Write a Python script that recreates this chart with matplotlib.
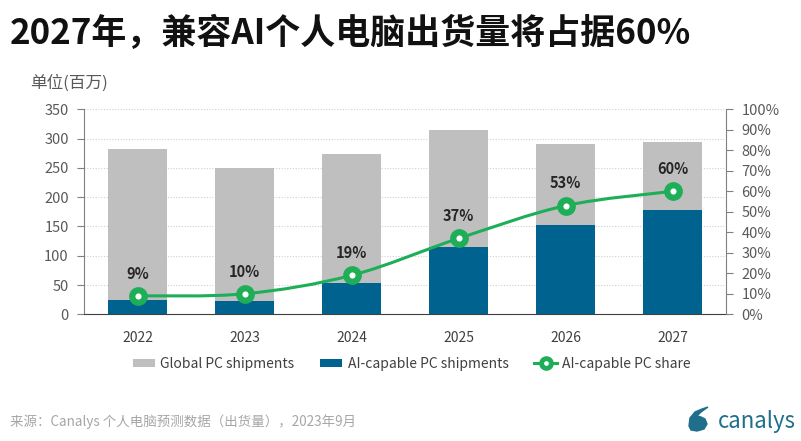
import matplotlib
matplotlib.use("Agg")
import matplotlib.pyplot as plt
from matplotlib.path import Path
from matplotlib.patches import PathPatch, Patch
from matplotlib.lines import Line2D
from matplotlib.ticker import FuncFormatter
import numpy as np

plt.rcParams['font.family'] = ['Noto Sans CJK SC', 'DejaVu Sans']

years = ["2022", "2023", "2024", "2025", "2026", "2027"]
global_pc = [283, 249, 273, 315, 291, 294]
ai_pc = [24, 23, 53, 115, 153, 178]
ai_share = [9, 10, 19, 37, 53, 60]
share_labels = ["9%", "10%", "19%", "37%", "53%", "60%"]

GRAY = "#BFBFBF"
BLUE = "#00628F"
GREEN = "#1DAE57"
TXT = "#595959"
LOGO = "#1F6E8C"


def smooth_path(xs, ys):
    # bezier path through the points, like excel's smoothed line
    pts = np.column_stack([xs, ys]).astype(float)
    n = len(pts)
    verts = [pts[0]]
    codes = [Path.MOVETO]
    for i in range(n - 1):
        p0 = pts[i - 1] if i > 0 else pts[i]
        p1 = pts[i]
        p2 = pts[i + 1]
        p3 = pts[i + 2] if i + 2 < n else pts[i + 1]
        c1 = p1 + (p2 - p0) / 6.0
        c2 = p2 - (p3 - p1) / 6.0
        verts += [c1, c2, p2]
        codes += [Path.CURVE4] * 3
    return Path(verts, codes)


fig = plt.figure(figsize=(8.01, 4.41), dpi=100)
ax = fig.add_axes([0.1049, 0.2873, 0.8017, 0.4649])
x = np.arange(len(years))

ax.bar(x, global_pc, width=0.55, color=GRAY, zorder=2)
ax.bar(x, ai_pc, width=0.55, color=BLUE, zorder=3)

ax.set_xlim(-0.5, len(years) - 0.5)
ax.set_ylim(0, 350)
ax.set_yticks(range(0, 351, 50))
ax.yaxis.grid(True, color="#D0D0D0", linestyle=(0, (1, 1.5)), linewidth=0.8, zorder=0)
ax.set_xticks(x)
ax.set_xticklabels(years)
ax.tick_params(axis='x', length=0, pad=12, labelsize=10, labelcolor="#404040")
ax.tick_params(axis='y', direction='out', length=5, color="#808080", labelsize=10.5,
               labelcolor=TXT, pad=6)
for s in ["top", "right"]:
    ax.spines[s].set_visible(False)
ax.spines["left"].set_color("#808080")
ax.spines["bottom"].set_color("#404040")

ax2 = ax.twinx()
ax2.set_ylim(0, 100)
ax2.set_yticks(range(0, 101, 10))
ax2.yaxis.set_major_formatter(FuncFormatter(lambda v, p: f"{int(v)}%"))
ax2.tick_params(axis='y', direction='out', length=5, color="#808080", labelsize=10.5,
                labelcolor=TXT, pad=6)
for s in ["top", "left", "bottom"]:
    ax2.spines[s].set_visible(False)
ax2.spines["right"].set_color("#808080")

ax2.add_patch(PathPatch(smooth_path(x, ai_share), facecolor="none", edgecolor=GREEN,
                        linewidth=2.2, zorder=4))
ax2.plot(x, ai_share, linestyle="none", marker="o", markersize=9,
         markerfacecolor="white", markeredgecolor=GREEN, markeredgewidth=4.5, zorder=5)
for xi, yi, lab in zip(x, ai_share, share_labels):
    ax2.annotate(lab, (xi, yi), xytext=(0, 16), textcoords="offset points",
                 ha="center", va="center", fontsize=10.5, fontweight="bold", color="#262626")

fig.text(0.012, 0.925, "2027年，兼容AI个人电脑出货量将占据60%", fontsize=25.2,
         fontweight="bold", color="#111111", va="center", ha="left")
fig.text(0.037, 0.812, "单位(百万)", fontsize=12, color=TXT, va="center", ha="left")

handles = [Patch(facecolor=GRAY, edgecolor="none"),
           Patch(facecolor=BLUE, edgecolor="none"),
           Line2D([], [], color=GREEN, linewidth=2.2, marker="o", markersize=7,
                  markerfacecolor="white", markeredgecolor=GREEN, markeredgewidth=3.5)]
fig.legend(handles, ["Global PC shipments", "AI-capable PC shipments", "AI-capable PC share"],
           loc="center", bbox_to_anchor=(0.514, 0.175), ncol=3, frameon=False,
           fontsize=10, labelcolor="#404040", handlelength=1.6, handleheight=0.6,
           columnspacing=1.85, handletextpad=0.4)

fig.text(0.012, 0.043, "来源：Canalys 个人电脑预测数据（出货量），2023年9月", fontsize=9.7,
         color="#A6A6A6", va="center", ha="left")
fig.text(0.993, 0.045, "canalys", fontsize=16, color=LOGO, va="center", ha="right")

# logo mark, drawn in pixel positions
logo_px = [(689, 426), (690, 418), (695, 412), (702, 409), (708, 407), (701, 412),
           (697, 416), (701, 417), (705, 419), (707, 424), (704, 429), (697, 431), (691, 430)]
logo_pts = [(px / 801, 1 - py / 441) for px, py in logo_px]
fig.patches.append(plt.Polygon(logo_pts, closed=True, transform=fig.transFigure,
                               color=LOGO))

fig.savefig("out.png", dpi=100)
